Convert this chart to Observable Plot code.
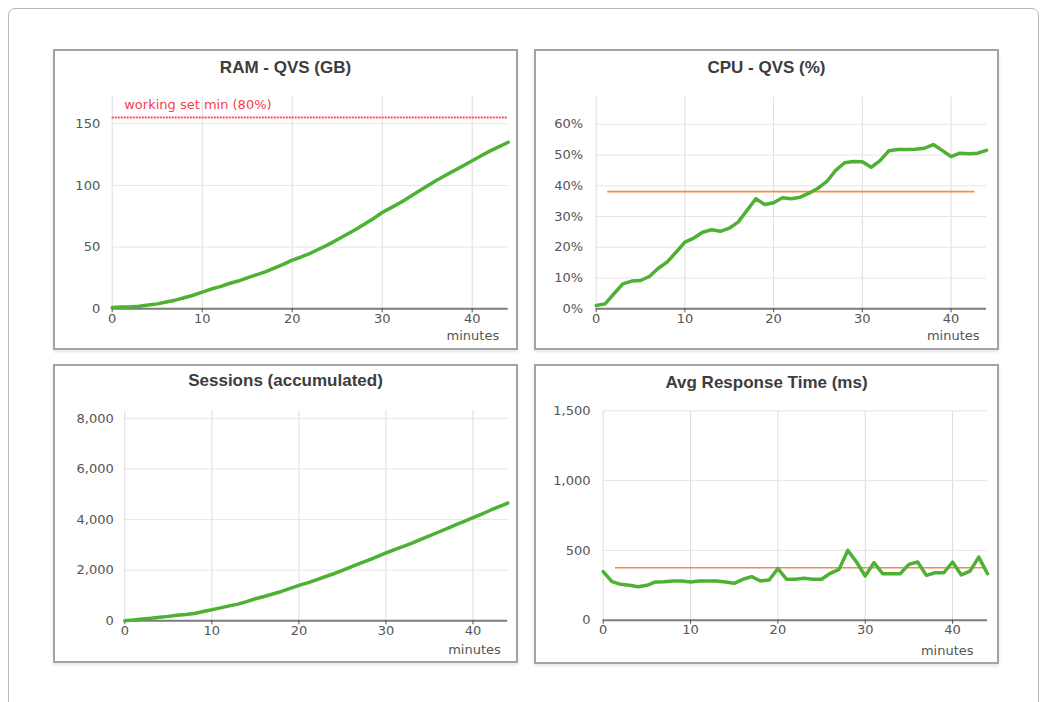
<!DOCTYPE html>
<html><head><meta charset="utf-8">
<script src="https://cdn.jsdelivr.net/npm/d3@7"></script>
<script src="https://cdn.jsdelivr.net/npm/@observablehq/plot@0.6"></script>
<style>
body{margin:0;background:#fff;font-family:"DejaVu Sans",sans-serif;}
#page{position:relative;width:1042px;height:702px;overflow:hidden;background:#fff;}
#frame{position:absolute;left:8px;top:8px;width:1031px;height:740px;border:1px solid #b8b8b8;border-radius:7px;box-sizing:border-box;}
.panel{position:absolute;border:2px solid #a3a3a3;box-sizing:border-box;background:#fff;box-shadow:0 2px 3px rgba(0,0,0,0.10);}
.panel svg{position:absolute;left:0;top:0;}
.title{position:absolute;left:0;right:0;text-align:center;font-family:"Liberation Sans",Arial,sans-serif;font-weight:bold;font-size:17px;line-height:20px;color:#3d3d3d;}
</style></head>
<body><div id="page"><div id="frame"></div></div>
<script>
// ---- data ----
const minutes = [0,1,2,3,4,5,6,7,8,9,10,11,12,13,14,15,16,17,18,19,20,21,22,23,24,25,26,27,28,29,30,31,32,33,34,35,36,37,38,39,40,41,42,43,44];
const xTicks = [0,10,20,30,40];

const ramTitle = "RAM - QVS (GB)";
const ramGB = [1,1.5,1.5,2,3,4,5.5,7,9,11,13.5,16,18,20.5,22.5,25,27.5,30,33,36,39.5,42,45,48.5,52,56,60,64,68.5,73,78,82,86,90.5,95,99.5,104,108,112,116,120,124,128,131.5,135];
const ramTicks = [0,50,100,150];
const ramLimit = [{value:155, label:"working set min (80%)"}];

const cpuTitle = "CPU - QVS (%)";
const cpuShare = [0.011,0.016,0.049,0.081,0.090,0.092,0.105,0.132,0.152,0.184,0.217,0.230,0.249,0.257,0.252,0.262,0.282,0.320,0.358,0.339,0.345,0.361,0.358,0.363,0.376,0.392,0.414,0.450,0.475,0.479,0.478,0.460,0.482,0.514,0.518,0.518,0.519,0.522,0.534,0.515,0.495,0.506,0.504,0.506,0.515];
const cpuTicks = [0,0.1,0.2,0.3,0.4,0.5,0.6];
const cpuRef = [{value:0.381, from:1.3, to:42.7}];

const sessTitle = "Sessions (accumulated)";
const sessions = [0,30,70,100,140,175,220,250,290,370,440,510,590,660,760,870,960,1060,1160,1280,1400,1500,1620,1740,1860,1990,2130,2270,2400,2540,2680,2810,2940,3070,3220,3360,3500,3640,3790,3930,4080,4220,4370,4510,4650];
const sessTicks = [0,2000,4000,6000,8000];

const respTitle = "Avg Response Time (ms)";
const responseMs = [348,276,257,250,240,250,274,276,281,281,274,281,281,281,274,264,293,312,281,288,369,293,293,300,293,293,336,364,500,417,317,412,333,333,333,400,417,321,340,340,417,324,352,452,333];
const respTicks = [0,500,1000,1500];
const respRef = [{value:376, from:1.4, to:43.9}];

const xLabel = "minutes";

// ---- drawing ----
const GREEN = "#4db134", ORANGE = "#f58a4e", RED = "#f4404f";

function panel(cfg){
  const div = document.createElement("div");
  div.className = "panel";
  Object.assign(div.style, {left:cfg.box[0]+"px", top:cfg.box[1]+"px", width:cfg.box[2]+"px", height:cfg.box[3]+"px"});
  const W = cfg.box[2]-4, H = cfg.box[3]-4;
  const data = minutes.map((m,i)=>({m, v:cfg.values[i]}));
  const [ml,mr,mt,mb] = cfg.margins;
  const marks = [
    Plot.gridX(xTicks, {stroke:"#dcdcdc", strokeOpacity:1}),
    Plot.gridY(cfg.ticks, {stroke:"#e6e6e6", strokeOpacity:1}),
    ...(cfg.extra || []),
    Plot.ruleY([0], {stroke:"#7d7d7d", strokeWidth:2}),
    Plot.axisX(xTicks, {tickSize:4, tickPadding:1, label:null, stroke:"#555"}),
    Plot.axisY(cfg.ticks, {tickSize:0, tickPadding:cfg.pad, tickFormat:cfg.fmt, label:null}),
    Plot.line(data, {x:"m", y:"v", stroke:GREEN, strokeWidth:3.5, strokeLinejoin:"round", strokeLinecap:"round"}),
    Plot.text([xLabel], {frameAnchor:"bottom-right", dx:cfg.lab[0], dy:cfg.lab[1], textAnchor:"end", fill:"#555", fontSize:13, style:"letter-spacing:0.5px"})
  ];
  const svg = Plot.plot({
    width: W, height: H,
    marginLeft: ml, marginRight: mr, marginTop: mt, marginBottom: mb,
    x: {domain:[0,44]},
    y: {domain:cfg.domain},
    style: {background:"transparent", fontFamily:"'DejaVu Sans', sans-serif", fontSize:"13px", color:"#555", overflow:"visible"},
    marks
  });
  div.appendChild(svg);
  const t = document.createElement("div");
  t.className = "title";
  t.style.top = cfg.titleTop + "px";
  t.textContent = cfg.title;
  div.appendChild(t);
  document.getElementById("page").appendChild(div);
}

panel({
  box:[53,49,465,301], title:ramTitle, titleTop:7, values:ramGB, ticks:ramTicks, domain:[0,171.5],
  fmt: d3.format(","), pad:12, margins:[56.7,8.3,45.7,39.7], lab:[-9,31],
  extra:[
    Plot.ruleY(ramLimit, {y:"value", stroke:"#ff4a5a", strokeWidth:2, strokeDasharray:"2,1"}),
    Plot.text(ramLimit, {x:()=>0, y:"value", text:"label", dx:12, dy:-13, textAnchor:"start", fill:RED, fontSize:13})
  ]
});
panel({
  box:[534,49,465,301], title:cpuTitle, titleTop:7, values:cpuShare, ticks:cpuTicks, domain:[0,0.688],
  fmt: d3.format(".0%"), pad:13, margins:[59.7,11,45.7,39.7], lab:[-7,31],
  extra:[ Plot.ruleY(cpuRef, {y:"value", x1:"from", x2:"to", stroke:ORANGE, strokeWidth:1.6}) ]
});
panel({
  box:[53,364,465,299], title:sessTitle, titleTop:5, values:sessions, ticks:sessTicks, domain:[0,8300],
  fmt: d3.format(","), pad:11, margins:[69.3,8.7,44.3,40.7], lab:[-7,33],
  extra:[]
});
panel({
  box:[534,364,465,300], title:respTitle, titleTop:7, values:responseMs, ticks:respTicks, domain:[0,1500],
  fmt: d3.format(","), pad:12.7, margins:[66.7,10,44.3,42.3], lab:[-14,34.6],
  extra:[ Plot.ruleY(respRef, {y:"value", x1:"from", x2:"to", stroke:ORANGE, strokeWidth:1.6}) ]
});
</script>
</body></html>
